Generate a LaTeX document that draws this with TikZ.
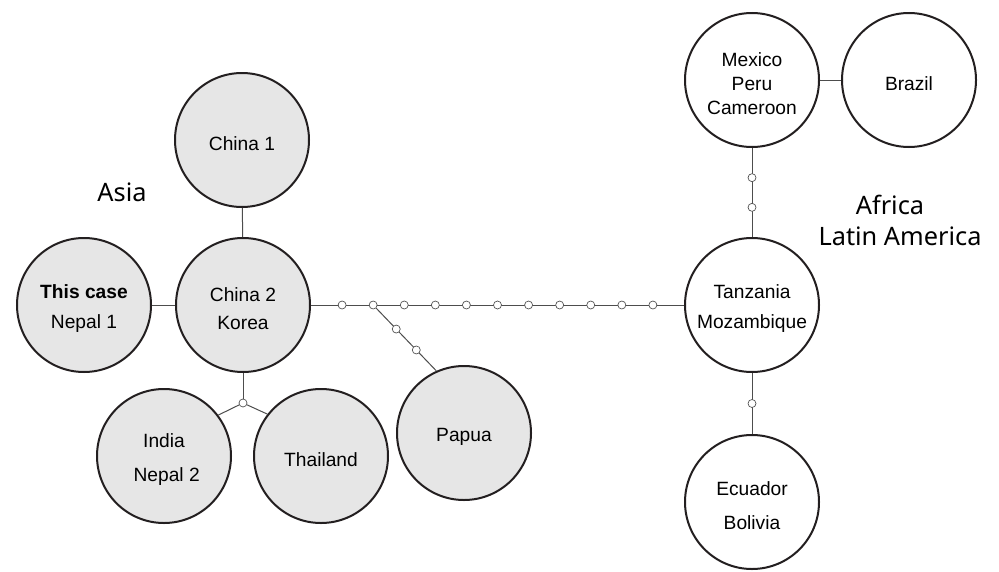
\documentclass[tikz,border=0pt]{standalone}
\usepackage{fontspec}
\setmainfont{Liberation Sans}
\newfontfamily\regionfont{Noto Sans}
\usetikzlibrary{positioning,calc}
\definecolor{hapgray}{HTML}{E6E6E6}
\definecolor{rimblack}{HTML}{231F20}
\definecolor{linkgray}{HTML}{4D4D4D}
\newcommand{\lift}{\rule{0pt}{16pt}}

\begin{document}
\begin{tikzpicture}[
    x=0.75pt, y=-0.75pt,
    font=\fontsize{14.4}{18}\selectfont,
    hap/.style={circle, draw=rimblack, line width=1.5pt, minimum size=100.5pt, inner sep=0pt, align=center},
    asian/.style={hap, fill=hapgray},
    other/.style={hap, fill=white},
    link/.style={draw=linkgray, line width=0.75pt},
    mut/.style={circle, draw=linkgray, fill=white, line width=0.5pt, minimum size=6pt, inner sep=0pt},
    region/.style={font=\regionfont\fontsize{19}{23}\selectfont, align=center},
]
    \useasboundingbox (0,0) rectangle (999,571);

    % =====================================================================
    % ASIAN HAPLOTYPES
    % =====================================================================
    \node[region] (asia) at (122,192) {Asia};

    \node[asian] (china1) at (242,140) {\lift China 1};
    \node[asian] (china2) at (243,305) {\lift China 2\\[3pt]Korea};
    \node[asian] (nepal1) at (84,305) {\lift\textbf{This case}\\[4.5pt]Nepal 1};
    \node[asian] (india) at (164,456) {\lift India\\[7.5pt]\hspace{4pt}Nepal 2};
    \node[asian] (thai) at (321,456) {\lift Thailand};
    \node[asian] (papua) at (464,433) {\lift Papua};

    \draw[link] (china1) -- (china2);
    \draw[link] (nepal1) -- (china2);

    % branch down to India / Thailand
    \node[mut] (junc) at (243,403) {};
    \draw[link] (china2) -- (junc);
    \draw[link] (junc) -- (india.37);
    \draw[link] (junc) -- (thai.142);

    % =====================================================================
    % AFRICAN / LATIN AMERICAN HAPLOTYPES
    % =====================================================================
    \node[region] (africa) at (890,205) {Africa};
    \node[region] (latam) at (900,236) {Latin America};

    \node[other] (tanz) at (752,305) {\lift Tanzania\\[4.5pt]Mozambique};
    \node[other] (mexico) at (752,80) {\lift Mexico\\Peru\\Cameroon};
    \node[other] (brazil) at (909,80) {\lift Brazil};
    \node[other] (ecuador) at (752,502) {\lift Ecuador\\[7.5pt]Bolivia};

    \draw[link] (mexico) -- (brazil);
    \draw[link] (mexico) -- (tanz)
        node[mut, pos=1/3] (mm1) {}
        node[mut, pos=2/3] (mm2) {};
    \draw[link] (tanz) -- (ecuador)
        node[mut, pos=0.5] (me1) {};

    % Long chain of mutational steps between the two groups
    \draw[link] (china2) -- (tanz)
        node[mut, pos=1/12] (m1) {}
        node[mut, pos=2/12] (m2) {}
        node[mut, pos=3/12] (m3) {}
        node[mut, pos=4/12] (m4) {}
        node[mut, pos=5/12] (m5) {}
        node[mut, pos=6/12] (m6) {}
        node[mut, pos=7/12] (m7) {}
        node[mut, pos=8/12] (m8) {}
        node[mut, pos=9/12] (m9) {}
        node[mut, pos=10/12] (m10) {}
        node[mut, pos=11/12] (m11) {};

    % side branch to Papua
    \draw[link] (m2) -- (papua.114)
        node[mut, pos=1/3] (mp1) {}
        node[mut, pos=2/3] (mp2) {};

\end{tikzpicture}
\end{document}
